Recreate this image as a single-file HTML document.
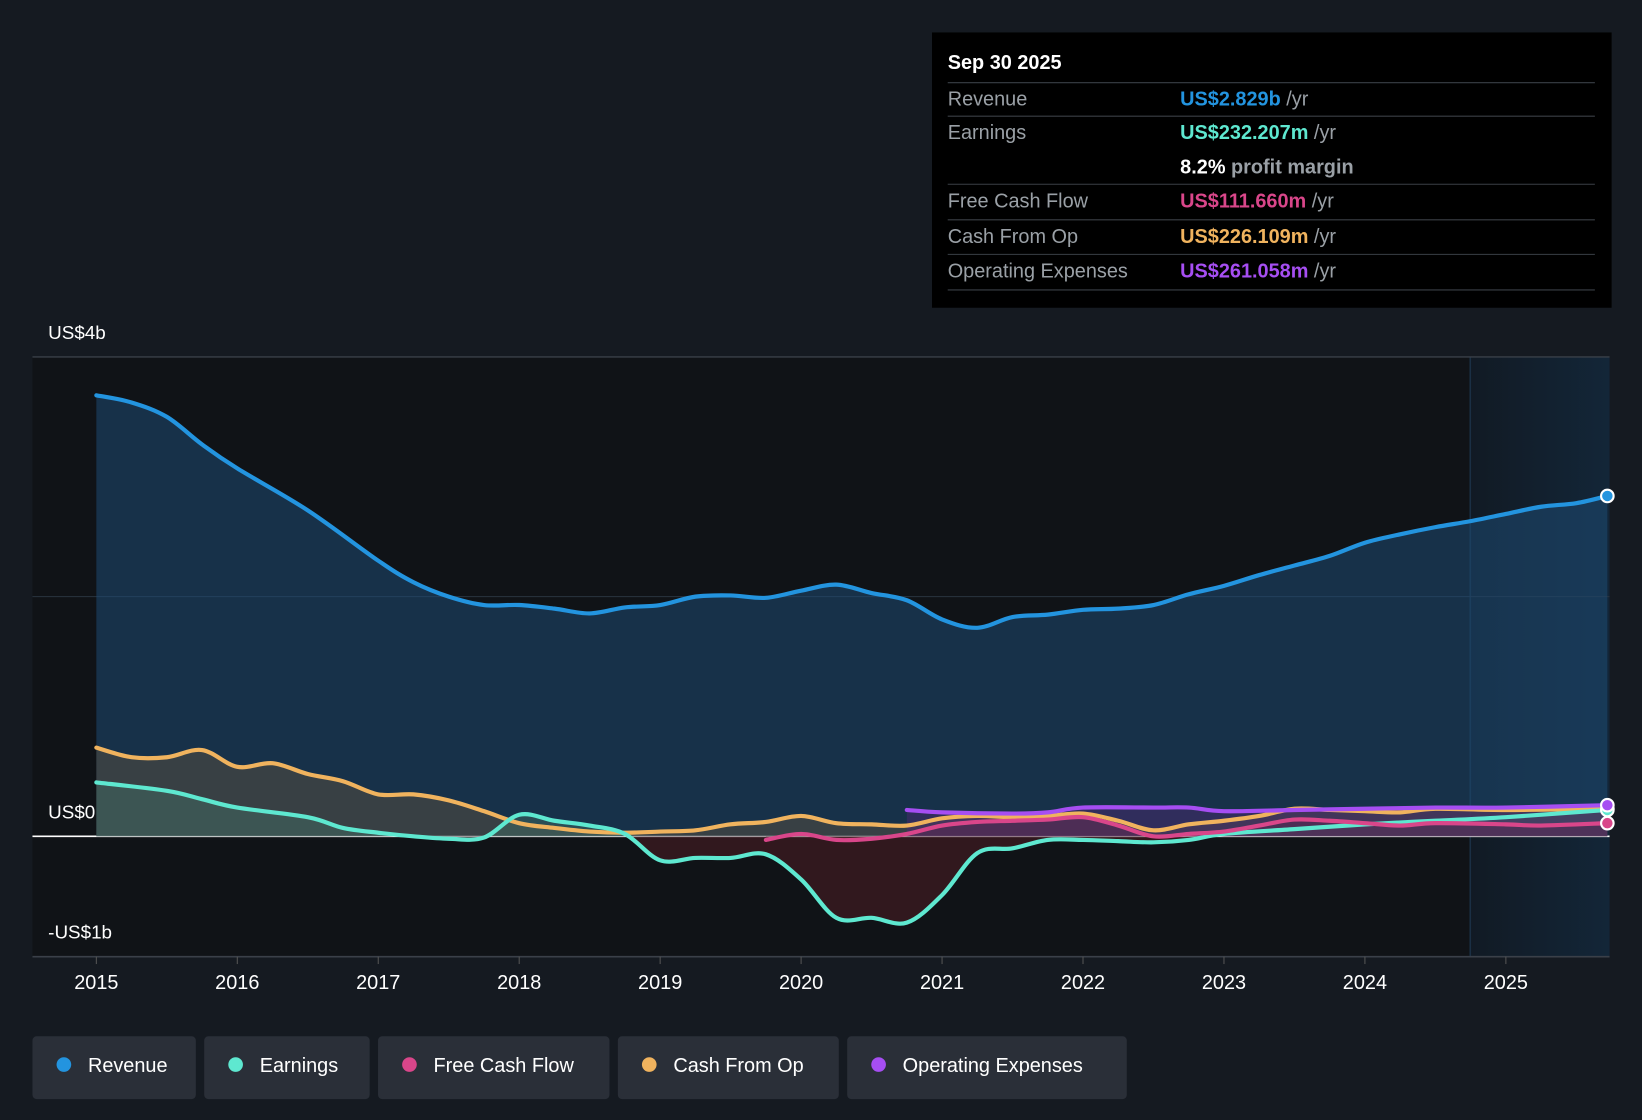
<!DOCTYPE html>
<html><head><meta charset="utf-8"><style>
html,body{margin:0;padding:0;background:#151a21;}
svg{display:block;font-family:"Liberation Sans",sans-serif;}
</style></head><body>
<svg id="chart" width="1642" height="1120" viewBox="0 0 1568 1070" preserveAspectRatio="none" xmlns="http://www.w3.org/2000/svg">
<defs>
<linearGradient id="fc" x1="0" x2="1" y1="0" y2="0"><stop offset="0" stop-color="#111a24"/><stop offset="1" stop-color="#132638"/></linearGradient>
<clipPath id="above"><rect x="0" y="0" width="1568" height="799"/></clipPath>
<clipPath id="below"><rect x="0" y="799" width="1568" height="271"/></clipPath>
</defs>
<rect x="0" y="0" width="1568" height="1070" fill="#151a21"/>
<rect x="31" y="341" width="1373" height="573" fill="#101317"/>
<rect x="1404" y="341" width="133" height="573" fill="url(#fc)"/>
<line x1="1404" y1="341" x2="1404" y2="914" stroke="#1a2f44" stroke-width="1.5"/>
<g id="grid"></g>
<g id="areas"></g>
<g id="lines"></g>
<g id="axis"></g>
<g>
<rect x="890" y="31" width="649" height="263" fill="#000"/>
<text x="905" y="66" fill="#fff" font-size="19" font-weight="bold">Sep 30 2025</text>
<g font-size="19">
<line x1="905" y1="79" x2="1523" y2="79" stroke="#3a3f46"/>
<text x="905" y="101" fill="#9aa0a6">Revenue</text><text x="1127" y="101" fill="#2394df" font-weight="bold">US$2.829b <tspan fill="#9aa0a6" font-weight="normal">/yr</tspan></text>
<line x1="905" y1="111" x2="1523" y2="111" stroke="#3a3f46"/>
<text x="905" y="133" fill="#9aa0a6">Earnings</text><text x="1127" y="133" fill="#5ee8d0" font-weight="bold">US$232.207m <tspan fill="#9aa0a6" font-weight="normal">/yr</tspan></text>
<text x="1127" y="166" fill="#fff" font-weight="bold">8.2% <tspan fill="#9aa0a6">profit margin</tspan></text>
<line x1="905" y1="176" x2="1523" y2="176" stroke="#3a3f46"/>
<text x="905" y="198" fill="#9aa0a6">Free Cash Flow</text><text x="1127" y="198" fill="#d9468a" font-weight="bold">US$111.660m <tspan fill="#9aa0a6" font-weight="normal">/yr</tspan></text>
<line x1="905" y1="210" x2="1523" y2="210" stroke="#3a3f46"/>
<text x="905" y="232" fill="#9aa0a6">Cash From Op</text><text x="1127" y="232" fill="#f0b35e" font-weight="bold">US$226.109m <tspan fill="#9aa0a6" font-weight="normal">/yr</tspan></text>
<line x1="905" y1="243" x2="1523" y2="243" stroke="#3a3f46"/>
<text x="905" y="265" fill="#9aa0a6">Operating Expenses</text><text x="1127" y="265" fill="#a64ef2" font-weight="bold">US$261.058m <tspan fill="#9aa0a6" font-weight="normal">/yr</tspan></text>
<line x1="905" y1="277" x2="1523" y2="277" stroke="#3a3f46"/>
</g></g>
<g id="legend"></g>
</svg>
<script>
const revT=[2015,2015.25,2015.5,2015.75,2016,2016.5,2017,2017.25,2017.5,2017.75,2018,2018.25,2018.5,2018.75,2019,2019.25,2019.5,2019.75,2020,2020.25,2020.5,2020.75,2021,2021.25,2021.5,2021.75,2022,2022.25,2022.5,2022.75,2023,2023.25,2023.5,2023.75,2024,2024.25,2024.5,2024.75,2025,2025.25,2025.5,2025.72];
const revV=[3.68,3.62,3.50,3.27,3.07,2.72,2.30,2.12,2.0,1.93,1.93,1.90,1.86,1.91,1.93,2.0,2.01,1.99,2.05,2.10,2.03,1.97,1.81,1.74,1.83,1.85,1.89,1.90,1.93,2.02,2.09,2.18,2.26,2.34,2.45,2.52,2.58,2.63,2.69,2.75,2.78,2.84];
const earnT=[2015,2015.5,2015.75,2016,2016.5,2016.75,2017,2017.25,2017.5,2017.75,2018,2018.25,2018.5,2018.75,2019,2019.25,2019.5,2019.75,2020,2020.25,2020.5,2020.75,2021,2021.25,2021.5,2021.75,2022,2022.25,2022.5,2022.75,2023,2023.5,2024,2024.5,2025,2025.72];
const earnV=[0.45,0.38,0.31,0.24,0.16,0.07,0.03,0,-0.02,-0.01,0.18,0.13,0.09,0.02,-0.20,-0.18,-0.18,-0.15,-0.36,-0.68,-0.68,-0.72,-0.49,-0.14,-0.10,-0.03,-0.03,-0.04,-0.05,-0.03,0.02,0.06,0.10,0.13,0.16,0.22];
const cfoT=[2015,2015.25,2015.5,2015.75,2016,2016.25,2016.5,2016.75,2017,2017.25,2017.5,2017.75,2018,2018.25,2018.5,2018.75,2019,2019.25,2019.5,2019.75,2020,2020.25,2020.5,2020.75,2021,2021.25,2021.5,2021.75,2022,2022.25,2022.5,2022.75,2023,2023.25,2023.5,2023.75,2024,2024.25,2024.5,2025,2025.72];
const cfoV=[0.74,0.66,0.66,0.72,0.58,0.61,0.52,0.46,0.35,0.35,0.30,0.21,0.11,0.07,0.04,0.03,0.04,0.05,0.10,0.12,0.17,0.11,0.10,0.09,0.15,0.17,0.16,0.17,0.19,0.13,0.05,0.10,0.13,0.17,0.23,0.22,0.21,0.20,0.23,0.22,0.23];
const fcfT=[2019.75,2020,2020.25,2020.5,2020.75,2021,2021.25,2021.5,2021.75,2022,2022.25,2022.5,2022.75,2023,2023.25,2023.5,2023.75,2024,2024.25,2024.5,2025,2025.25,2025.72];
const fcfV=[-0.03,0.02,-0.03,-0.02,0.02,0.09,0.12,0.13,0.14,0.16,0.09,0.0,0.02,0.04,0.09,0.14,0.13,0.11,0.09,0.11,0.10,0.09,0.11];
const opxT=[2020.75,2021,2021.5,2021.75,2022,2022.5,2022.75,2023,2023.5,2024,2024.5,2025,2025.72];
const opxV=[0.22,0.20,0.19,0.20,0.24,0.24,0.24,0.21,0.22,0.23,0.24,0.24,0.26];
const yTicks=[4,0,-1];
const yLabels=["US$4b","US$0","-US$1b"];
const xTicks=[2015,2016,2017,2018,2019,2020,2021,2022,2023,2024,2025];
const legendNames=["Revenue","Earnings","Free Cash Flow","Cash From Op","Operating Expenses"];
const legendColors=["#2394df","#5ee8d0","#d9468a","#f0b35e","#a64ef2"];

const NS="http://www.w3.org/2000/svg";
const X=t=>92+(t-2015)*134.6;
const Y=v=>799-v*114.5;
function mk(tag,attrs,parent){const e=document.createElementNS(NS,tag);for(const k in attrs)e.setAttribute(k,attrs[k]);parent.appendChild(e);return e;}
function pathD(T,V){const p=T.map((t,i)=>[X(t),Y(V[i])]);let d="M"+p[0][0]+","+p[0][1];
for(let i=0;i<p.length-1;i++){const p0=p[i-1]||p[i],p1=p[i],p2=p[i+1],p3=p[i+2]||p2;
const c1=[p1[0]+(p2[0]-p0[0])/6,p1[1]+(p2[1]-p0[1])/6],c2=[p2[0]-(p3[0]-p1[0])/6,p2[1]-(p3[1]-p1[1])/6];
d+=` C${c1[0]},${c1[1]} ${c2[0]},${c2[1]} ${p2[0]},${p2[1]}`;}return d;}
const grid=document.getElementById('grid'),areas=document.getElementById('areas'),lines=document.getElementById('lines'),axis=document.getElementById('axis');
yTicks.forEach((v,i)=>{
 if(v!==-1){const l=mk('line',{x1:31,x2:1537,y1:Y(v),y2:Y(v),stroke:v===0?'#ffffff':'#3a4049','stroke-width':v===0?1.5:1.2},grid);
 
 }
 const t=mk('text',{x:46,y:Y(v)-17,fill:'#fff','font-size':18},axis);t.textContent=yLabels[i];
 
 
});
const mid=mk('line',{x1:31,x2:1537,y1:Y(2),y2:Y(2),stroke:'#2a3440','stroke-width':1},grid);


mk('line',{x1:31,x2:1537,y1:914,y2:914,stroke:'#3a4049','stroke-width':1.5},axis);
xTicks.forEach(yr=>{mk('line',{x1:X(yr),x2:X(yr),y1:914,y2:921,stroke:'#555'},axis);
 const t=mk('text',{x:X(yr),y:945,fill:'#fff','font-size':19,'text-anchor':'middle'},axis);t.textContent=yr;
 
 });
const series=[[revT,revV,"#2394df","revenue"],[cfoT,cfoV,"#f0b35e","cash-from-op"],[earnT,earnV,"#5ee8d0","earnings"],[fcfT,fcfV,"#d9468a","free-cash-flow"],[opxT,opxV,"#a64ef2","operating-expenses"]];
const fills={revenue:"#1d4a72","cash-from-op":"#5a5040",earnings:"#3f6a62","free-cash-flow":"#6a2030","operating-expenses":"#4a2a70"};
series.forEach(([T,V,c,n])=>{const d=pathD(T,V);
 const closed=d+` L${X(T[T.length-1])},${Y(0)} L${X(T[0])},${Y(0)} Z`;
 const a=mk('path',{d:closed,fill:fills[n],'fill-opacity':n==='revenue'?0.55:0.5,'clip-path':'url(#above)'},areas);
 
 
 const b=mk('path',{d:closed,fill:'#5a1e28','fill-opacity':0.45,'clip-path':'url(#below)'},areas);
 
 
 const l=mk('path',{d:d,fill:'none',stroke:c,'stroke-width':4,'stroke-linecap':'round'},lines);
 
 
 const dot=mk('circle',{cx:X(T[T.length-1]),cy:Y(V[V.length-1]),r:6,fill:c,stroke:'#fff','stroke-width':2},lines);
 
 
});
const lg=document.getElementById('legend');const widths=[156,158,221,211,267];let lx=31;
legendNames.forEach((nm,i)=>{const g=mk('g',{},lg);
 
 
 mk('rect',{x:lx,y:990,width:widths[i],height:60,rx:4,fill:'#2a2f38'},g);
 mk('circle',{cx:lx+30,cy:1017,r:7,fill:legendColors[i]},g);
 const t=mk('text',{x:lx+53,y:1024,fill:'#fff','font-size':19},g);t.textContent=nm;
 lx+=widths[i]+8;});
</script>
</body></html>
